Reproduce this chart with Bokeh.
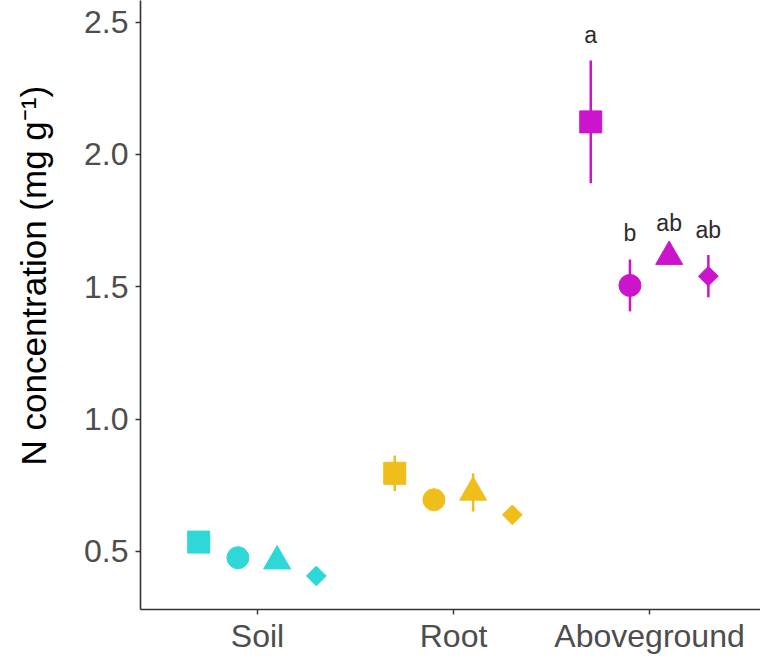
import numpy as np
from bokeh.plotting import figure
from bokeh.models import FixedTicker, Range1d, PrintfTickFormatter, Title
from bokeh.core.properties import value
from bokeh.embed import file_html
from bokeh.resources import INLINE

# ---------------- data ----------------
compartments = ["Soil", "Root", "Aboveground"]
compartment_pos = [1, 2, 3]
treatment_offsets = [-0.3, -0.1, 0.1, 0.3]
treatment_markers = ["square", "circle", "triangle", "diamond"]

soil_mean = [0.535, 0.476, 0.463, 0.407]
soil_se = [0.020, 0.015, 0.020, 0.015]
root_mean = [0.795, 0.695, 0.723, 0.638]
root_se = [0.067, 0.020, 0.072, 0.020]
above_mean = [2.123, 1.505, 1.614, 1.540]
above_se = [0.232, 0.098, 0.030, 0.080]

above_letters = ["a", "b", "ab", "ab"]
letter_y = [2.45, 1.705, 1.742, 1.715]

y_ticks = [0.5, 1.0, 1.5, 2.0, 2.5]
compartment_colors = ["#2ED8D8", "#F0BE1A", "#CC14CC"]

means = [soil_mean, root_mean, above_mean]
ses = [soil_se, root_se, above_se]

FONT = "Liberation Sans"

p = figure(width=760, height=656, output_backend="svg", toolbar_location=None,
           x_range=Range1d(0.403, 3.566), y_range=Range1d(0.2803, 2.5818),
           min_border_left=140, min_border_right=0, min_border_top=0,
           min_border_bottom=45)
p.background_fill_color = "white"
p.border_fill_color = "white"
p.outline_line_color = None
p.grid.visible = False

marker_sizes = {"square": 22, "circle": 22, "triangle": 27, "diamond": 14}

for ci, pos in enumerate(compartment_pos):
    col = compartment_colors[ci]
    xs = [pos + o for o in treatment_offsets]
    lo = [m - s for m, s in zip(means[ci], ses[ci])]
    hi = [m + s for m, s in zip(means[ci], ses[ci])]
    p.segment(x0=xs, y0=lo, x1=xs, y1=hi, line_color=col, line_width=2.5)
    for ti, mk in enumerate(treatment_markers):
        if mk == "diamond":
            p.scatter([xs[ti]], [means[ci][ti]], marker="square", angle=np.pi / 4,
                      size=marker_sizes[mk], fill_color=col, line_color=col)
        else:
            p.scatter([xs[ti]], [means[ci][ti]], marker=mk,
                      size=marker_sizes[mk], fill_color=col, line_color=col)

# significance letters (aboveground)
letter_x = [compartment_pos[2] + o for o in treatment_offsets]
p.text(x=letter_x, y=letter_y, text=above_letters, text_align="center",
       text_baseline="middle", text_font=value(FONT), text_font_size="23px",
       text_color="#2b2b2b")

# axes
for ax in (p.xaxis[0], p.yaxis[0]):
    ax.axis_line_color = "#333333"
    ax.axis_line_width = 1.6
    ax.major_tick_line_color = "#333333"
    ax.major_tick_line_width = 1.4
    ax.major_tick_out = 5
    ax.major_tick_in = 0
    ax.minor_tick_line_color = None
    ax.major_label_text_font = FONT
    ax.major_label_text_font_size = "32px"
    ax.major_label_text_color = "#4D4D4D"

p.xaxis.major_label_standoff = 3
p.yaxis.major_label_standoff = 7

p.xaxis.ticker = FixedTicker(ticks=compartment_pos)
p.xaxis.major_label_overrides = {pos: name for pos, name in zip(compartment_pos, compartments)}
p.yaxis.ticker = FixedTicker(ticks=y_ticks)
p.yaxis.formatter = PrintfTickFormatter(format="%.1f")

# spacer between tick labels and the y-axis title
spacer = Title(text=" ", text_font_size="1px", standoff=24)
p.add_layout(spacer, "left")

# y-axis title
ytitle = Title(text="N concentration (mg g\u207b\u00b9)", align="left", offset=144,
               vertical_align="bottom", standoff=4,
               text_font=FONT, text_font_size="35px", text_font_style="normal",
               text_color="black")
p.add_layout(ytitle, "left")

open("out.html", "w").write(file_html(p, INLINE))
